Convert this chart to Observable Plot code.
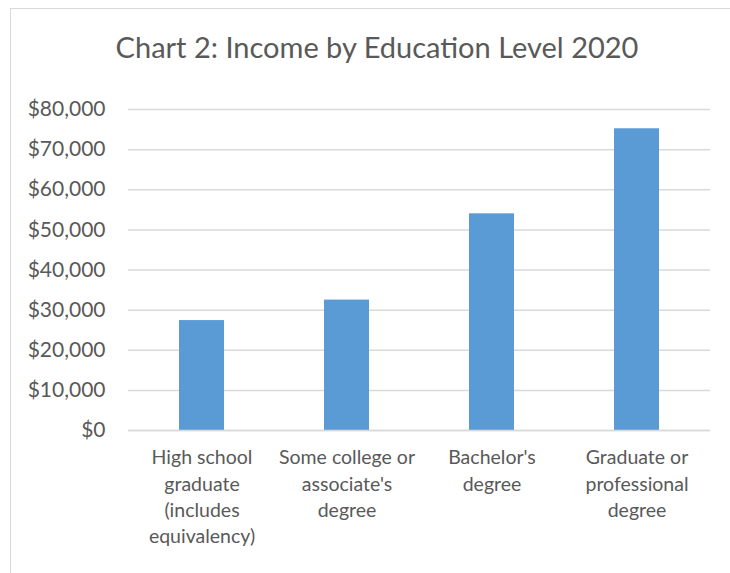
<!DOCTYPE html>
<html>
<head>
<meta charset="utf-8">
<script src="https://cdn.jsdelivr.net/npm/d3@7"></script>
<script src="https://cdn.jsdelivr.net/npm/@observablehq/plot@0.6"></script>
<style>
  html, body { margin: 0; padding: 0; background: #fff; }
  #wrap { position: relative; width: 730px; height: 573px; overflow: hidden; font-family: Lato, "Open Sans", sans-serif; }
  #frame { position: absolute; left: 10px; top: 8px; width: 760px; height: 620px; border: 1.5px solid #d9d9d9; box-sizing: border-box; }
  #title { position: absolute; left: 0; top: 29px; width: 754px; text-align: center; font-size: 29px; color: #595959; white-space: nowrap; }
  #chart { position: absolute; left: 0; top: 0; }
</style>
</head>
<body>
<div id="wrap">
  <div id="frame"></div>
  <div id="title">Chart 2: Income by Education Level 2020</div>
  <div id="chart"></div>
</div>
<script>
const categories = [
  "High school\ngraduate\n(includes\nequivalency)",
  "Some college or\nassociate's\ndegree",
  "Bachelor's\ndegree",
  "Graduate or\nprofessional\ndegree"
];
const incomes = [27400, 32500, 54000, 75200];
const yTicks = [0, 10000, 20000, 30000, 40000, 50000, 60000, 70000, 80000];

const data = categories.map((c, i) => ({category: c, income: incomes[i]}));
const fmt = d => "$" + d3.format(",")(d);

const chart = Plot.plot({
  width: 730,
  height: 573,
  marginLeft: 128,
  marginRight: 20,
  marginTop: 109,
  marginBottom: 143,
  style: {background: "transparent", fontFamily: "Lato, 'Open Sans', sans-serif", overflow: "visible"},
  x: {domain: categories, paddingInner: 0.687, paddingOuter: 0.3435, align: 0.5},
  y: {domain: [0, 80000]},
  marks: [
    Plot.gridY(yTicks, {stroke: "#d9d9d9", strokeOpacity: 1, strokeWidth: 1.5}),
    Plot.barY(data, {x: "category", y: "income", fill: "#5B9BD5"}),
    Plot.ruleY([0], {stroke: "#d9d9d9", strokeWidth: 1.5}),
    Plot.axisY(yTicks, {tickSize: 0, tickPadding: 23, tickFormat: fmt, fontSize: 21, fill: "#595959", label: null}),
    Plot.axisX({tickSize: 0, tickPadding: 15, fontSize: 19.5, fill: "#595959", lineHeight: 1.35, label: null})
  ]
});
document.getElementById("chart").appendChild(chart);
</script>
</body>
</html>
